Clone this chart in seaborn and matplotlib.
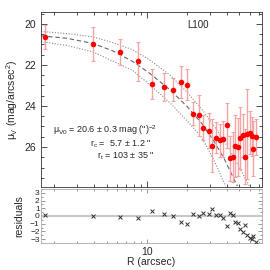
import numpy as np
import pandas as pd
import matplotlib
matplotlib.use("Agg")
import matplotlib.pyplot as plt
import seaborn as sns
from matplotlib.ticker import LogLocator, NullFormatter, FixedLocator, MultipleLocator

# ---- data ----
R = [1.71, 3.93, 6.27, 8.56, 10.9, 13.4, 15.7, 18.0, 20.3, 22.5, 24.6, 26.8, 29.3,
     31.3, 33.6, 36.0, 37.9, 40.6, 42.8, 45.1, 46.7, 49.2, 50.9, 53.6, 55.5, 57.5,
     60.5, 62.7, 63.8, 67.2]
mu = [20.63, 20.96, 21.39, 21.83, 22.93, 23.09, 23.20, 22.83, 22.96, 24.38, 24.45,
      25.05, 25.20, 25.93, 25.54, 25.67, 25.61, 24.94, 26.55, 26.49, 25.95, 26.00,
      25.57, 25.43, 26.47, 25.36, 25.30, 25.48, 26.08, 25.51]
err = [0.60, 0.83, 0.63, 0.94, 0.71, 0.68, 0.58, 0.77, 0.74, 0.57, 1.00, 0.61, 0.87,
       1.30, 0.75, 0.80, 0.90, 1.10, 1.10, 1.20, 1.50, 1.40, 1.50, 1.05, 1.35, 2.20,
       1.05, 0.95, 1.35, 0.87]
resid = [0.10, -0.05, -0.10, -0.20, 0.61, 0.26, -0.04, -0.78, -1.04, 0.22, 0.00,
         0.44, 0.26, 0.87, 0.18, 0.09, -0.20, -1.30, 0.39, 0.09, -0.78, -0.86, -1.64,
         -2.08, -1.21, -2.50, -2.80, -2.94, -2.60, -3.38]

model_R = [1.60, 2.5, 3.93, 5.5, 7.85, 10.5, 14.9, 20.0, 26.4, 32.0, 38.6, 48.3]
model_mu = [20.58, 20.70, 20.95, 21.30, 21.83, 22.40, 23.20, 24.00, 24.90, 25.70, 26.60, 27.91]
upper_R = [1.60, 2.5, 3.93, 5.5, 7.85, 10.5, 14.9, 20.0, 27.3, 34.0, 42.1, 50.0, 59.5]
upper_mu = [20.37, 20.47, 20.63, 20.90, 21.26, 21.75, 22.48, 23.30, 24.32, 25.20, 26.12, 27.00, 27.91]
lower_R = [1.60, 2.5, 3.93, 5.5, 7.85, 10.5, 14.9, 20.0, 25.0, 28.5, 32.5, 39.3]
lower_mu = [20.86, 21.05, 21.36, 21.80, 22.27, 22.95, 23.83, 24.70, 25.39, 26.00, 26.70, 27.91]

label = "L100"
fit_lines = ["$\\mu_{V0}$ = 20.6 $\\pm$ 0.3 mag (\")$^{-2}$",
             "r$_c$ =  5.7 $\\pm$ 1.2 \"",
             "r$_t$ = 103 $\\pm$ 35 \""]

df = pd.DataFrame({"R": R, "mu": mu, "err": err, "resid": resid})

sns.set_theme(style="ticks")
plt.rcParams["font.family"] = ["Liberation Sans", "DejaVu Sans"]
plt.rcParams["mathtext.fontset"] = "custom"
plt.rcParams["mathtext.rm"] = "Liberation Sans"
plt.rcParams["mathtext.it"] = "Liberation Sans"

fig = plt.figure(figsize=(2.7, 2.7), dpi=100)
ax = fig.add_axes([41/270, 83/270, 221/270, 175/270])
axr = fig.add_axes([41/270, 27/270, 221/270, 54/270])

# model curves
sns.lineplot(x=upper_R, y=upper_mu, ax=ax, color="#8a8a8a", lw=0.8, linestyle=(0, (1, 1.5)), sort=False)
sns.lineplot(x=model_R, y=model_mu, ax=ax, color="#666666", lw=0.8, linestyle=(0, (4, 2.5)), sort=False)
sns.lineplot(x=lower_R, y=lower_mu, ax=ax, color="#8a8a8a", lw=0.8, linestyle=(0, (1, 1.5)), sort=False)

ax.errorbar(df["R"], df["mu"], yerr=df["err"], fmt="none", ecolor="#f4a4a4",
            elinewidth=1.0, capsize=1.5, capthick=0.8, zorder=2)
sns.scatterplot(data=df, x="R", y="mu", ax=ax, color="#ff0000", s=16, linewidth=0,
                zorder=3, legend=False)

ax.set_xscale("log")
ax.set_xlim(1.6, 74)
ax.set_ylim(27.95, 19.42)
ax.yaxis.set_major_locator(FixedLocator([20, 22, 24, 26]))
ax.yaxis.set_minor_locator(MultipleLocator(0.5))
ax.xaxis.set_major_locator(LogLocator(base=10))
ax.xaxis.set_minor_locator(LogLocator(base=10, subs=np.arange(2, 10)))
ax.xaxis.set_major_formatter(NullFormatter())
ax.xaxis.set_minor_formatter(NullFormatter())
ax.tick_params(axis="both", which="both", direction="in", top=True, right=True,
               labelsize=7.5, width=0.6, color="#333333")
ax.tick_params(which="major", length=4)
ax.tick_params(which="minor", length=2)
ax.set_xlabel("")
ax.set_ylabel("$\\mu_V$ (mag/arcsec$^2$)", fontsize=7.5, labelpad=3)
for s in ax.spines.values():
    s.set_linewidth(0.6)
    s.set_color("#333333")

fig.text(198/270, 1 - 25/270, label, fontsize=7, ha="center", va="center")
fig.text(53/270, 1 - 130/270, fit_lines[0], fontsize=6.5, ha="left", va="center")
fig.text(90/270, 1 - 144/270, fit_lines[1], fontsize=6.5, ha="left", va="center")
fig.text(97/270, 1 - 156/270, fit_lines[2], fontsize=6.5, ha="left", va="center")

# residuals
axr.axhline(0, color="#c8c8c8", lw=1.5, zorder=1)
sns.scatterplot(data=df, x="R", y="resid", ax=axr, marker="x", color="#333333",
                s=8, linewidth=0.7, zorder=3, legend=False)
axr.set_xscale("log")
axr.set_xlim(1.6, 74)
axr.set_ylim(-3.5, 3.5)
axr.yaxis.set_major_locator(FixedLocator([-3, -2, -1, 0, 1, 2, 3]))
axr.yaxis.set_minor_locator(MultipleLocator(0.5))
axr.xaxis.set_major_locator(LogLocator(base=10))
axr.xaxis.set_minor_locator(LogLocator(base=10, subs=np.arange(2, 10)))
axr.xaxis.set_minor_formatter(NullFormatter())
axr.xaxis.set_major_formatter(plt.FuncFormatter(lambda v, p: f"{v:g}"))
axr.tick_params(axis="both", which="both", direction="in", top=True, right=True,
                width=0.6, color="#888888")
axr.tick_params(axis="x", labelsize=7.5, pad=3)
axr.tick_params(axis="y", labelsize=6, pad=1)
axr.tick_params(which="major", length=3)
axr.tick_params(which="minor", length=1.5)
axr.set_xlabel("R (arcsec)", fontsize=7.5, labelpad=0)
axr.set_ylabel("residuals", fontsize=7.5, labelpad=4)
for s in axr.spines.values():
    s.set_linewidth(0.6)
    s.set_color("#aaaaaa")

fig.savefig("out.png", dpi=100)
